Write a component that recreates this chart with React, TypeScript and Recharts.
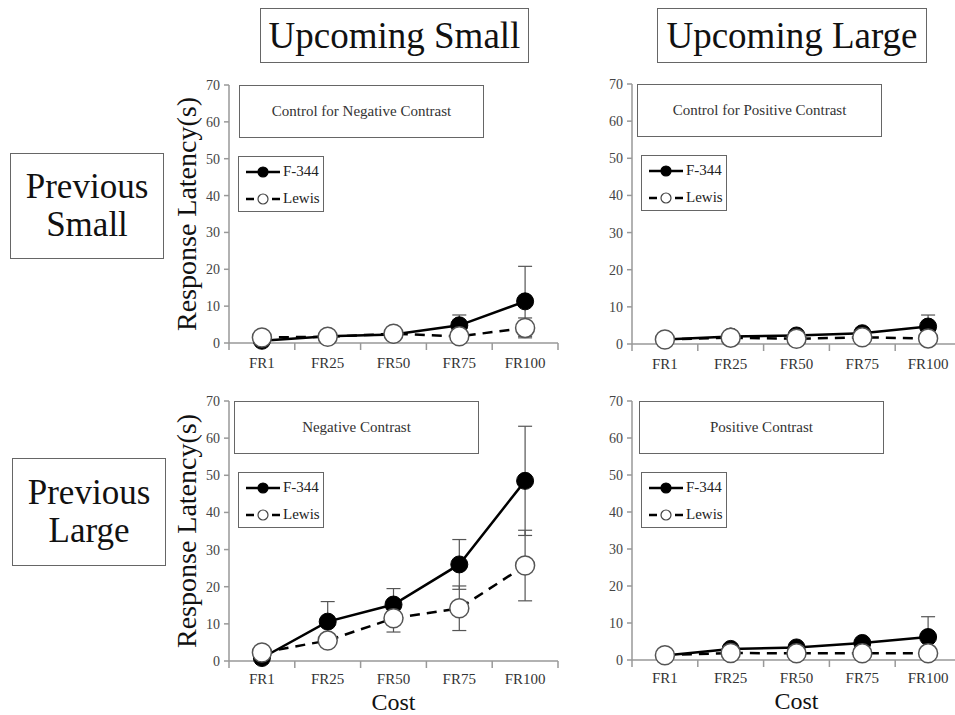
import React from 'react';
import { ErrorBar, Legend, Line, LineChart, XAxis, YAxis } from 'recharts';

const costs = ['FR1', 'FR25', 'FR50', 'FR75', 'FR100'];
const yTicks = [0, 10, 20, 30, 40, 50, 60, 70];

// Previous Small / Upcoming Small
const ctrlNegF344 = [0.6, 1.8, 2.3, 4.8, 11.3];
const ctrlNegF344Err = [0.4, 0.4, 0.5, 2.8, 9.5];
const ctrlNegLewis = [1.5, 1.7, 2.5, 1.8, 4.1];
const ctrlNegLewisErr = [0.4, 0.4, 0.5, 0.6, 2.7];

// Previous Small / Upcoming Large
const ctrlPosF344 = [1.2, 2.0, 2.3, 2.9, 4.7];
const ctrlPosF344Err = [0.3, 0.4, 0.5, 0.6, 3.1];
const ctrlPosLewis = [1.2, 1.7, 1.4, 1.8, 1.5];
const ctrlPosLewisErr = [0.3, 0.3, 0.3, 0.3, 0.4];

// Previous Large / Upcoming Small
const negF344 = [0.8, 10.6, 15.2, 26.0, 48.5];
const negF344Err = [0.6, 5.4, 4.3, 6.7, 14.7];
const negLewis = [2.3, 5.5, 11.5, 14.2, 25.7];
const negLewisErr = [0.8, 1.5, 3.7, 6.0, 9.5];

// Previous Large / Upcoming Large
const posF344 = [1.2, 3.0, 3.4, 4.6, 6.2];
const posF344Err = [0.3, 0.6, 0.6, 0.8, 5.5];
const posLewis = [1.3, 1.9, 1.8, 1.8, 1.8];
const posLewisErr = [0.3, 0.3, 0.3, 0.3, 0.4];

const SERIF = '"Liberation Serif", "Times New Roman", serif';
const AXIS = '#999';

function rows(f: number[], fe: number[], l: number[], le: number[]) {
  return costs.map((c, i) => ({ x: i + 0.5, cost: c, f344: f[i], f344Err: fe[i], lewis: l[i], lewisErr: le[i] }));
}

function LegendBox() {
  const item = (dashed: boolean, label: string) => (
    <div style={{ display: 'flex', alignItems: 'center', height: 27 }}>
      <svg width={36} height={14}>
        <line x1={1} y1={7} x2={35} y2={7} stroke="#000" strokeWidth={2.5} strokeDasharray={dashed ? '8 5' : undefined} />
        <circle cx={18} cy={7} r={5} fill={dashed ? '#fff' : '#000'} stroke={dashed ? '#444' : '#000'} strokeWidth={1.2} />
      </svg>
      <span style={{ marginLeft: 2 }}>{label}</span>
    </div>
  );
  return (
    <div
      style={{
        width: 86,
        height: 56,
        boxSizing: 'border-box',
        border: '1.5px solid #666',
        background: '#fff',
        padding: '1px 0 0 6px',
        fontFamily: SERIF,
        fontSize: 15,
        color: '#222',
      }}
    >
      {item(false, 'F-344')}
      {item(true, 'Lewis')}
    </div>
  );
}

function Panel({
  left,
  top,
  plotHeight,
  bottom,
  title,
  titleOffset,
  data,
  yLabel,
  cost,
}: {
  left: number;
  top: number;
  plotHeight: number;
  bottom: number;
  title: string;
  titleOffset: number;
  data: ReturnType<typeof rows>;
  yLabel?: boolean;
  cost?: boolean;
}) {
  const yW = 59;
  const mTop = 15;
  const width = 396;
  const height = mTop + plotHeight + 1 + bottom;
  return (
    <div style={{ position: 'absolute', left, top, width, height }}>
      <LineChart width={width} height={height} data={data} margin={{ top: mTop, right: 8, left: 0, bottom: 0 }}>
        <XAxis
          xAxisId="b"
          type="number"
          dataKey="x"
          domain={[0, 5]}
          ticks={[0.5, 1.5, 2.5, 3.5, 4.5]}
          interval={0}
          height={bottom}
          tickFormatter={(v: number) => costs[Math.floor(v)]}
          axisLine={false}
          tickLine={false}
          tickSize={0}
          tickMargin={cost ? 11 : 13}
          tick={{ fill: '#333', fontSize: 15, fontFamily: SERIF }}
          label={
            cost
              ? {
                  content: (p: any) => (
                    <text
                      x={p.viewBox.x + p.viewBox.width / 2}
                      y={p.viewBox.y + 39.5}
                      textAnchor="middle"
                      dominantBaseline="central"
                      fontFamily={SERIF}
                      fontSize={24}
                      fill="#111"
                    >
                      Cost
                    </text>
                  ),
                }
              : undefined
          }
        />
        <XAxis
          xAxisId="a"
          type="number"
          dataKey="x"
          domain={[0, 5]}
          ticks={[0, 1, 2, 3, 4, 5]}
          interval={0}
          height={1}
          tick={() => <g />}
          tickSize={7}
          axisLine={{ stroke: AXIS, strokeWidth: 1.5 }}
          tickLine={{ stroke: AXIS, strokeWidth: 1.5 }}
        />
        <YAxis
          type="number"
          domain={[0, 70]}
          ticks={yTicks}
          interval={0}
          width={yW}
          tickSize={5}
          tickMargin={4}
          axisLine={{ stroke: AXIS, strokeWidth: 1.5 }}
          tickLine={{ stroke: AXIS, strokeWidth: 1.5 }}
          tick={{ fill: '#444', fontSize: 14, fontFamily: SERIF }}
          label={
            yLabel
              ? {
                  content: (p: any) => {
                    const x = p.viewBox.x + 16;
                    const y = p.viewBox.y + p.viewBox.height / 2;
                    return (
                      <text
                        x={x}
                        y={y}
                        transform={`rotate(-90, ${x}, ${y})`}
                        textAnchor="middle"
                        dominantBaseline="central"
                        fontFamily={SERIF}
                        fontSize={28}
                        fill="#111"
                      >
                        Response Latency(s)
                      </text>
                    );
                  },
                }
              : undefined
          }
        />
        <Legend
          layout="vertical"
          align="center"
          verticalAlign="middle"
          wrapperStyle={{ left: yW + 9, top: mTop + 71, width: 'auto', height: 'auto' }}
          content={() => <LegendBox />}
        />
        <Line
          xAxisId="b"
          type="linear"
          dataKey="f344"
          name="F-344"
          stroke="#000"
          strokeWidth={2.5}
          dot={{ r: 8.5, fill: '#000', stroke: '#000', strokeWidth: 1 }}
          isAnimationActive={false}
        >
          <ErrorBar dataKey="f344Err" direction="y" width={7} stroke="#555" strokeWidth={1.2} />
        </Line>
        <Line
          xAxisId="b"
          type="linear"
          dataKey="lewis"
          name="Lewis"
          stroke="#000"
          strokeWidth={2.5}
          strokeDasharray="10 7"
          dot={{ r: 9.5, fill: '#fff', stroke: '#555', strokeWidth: 1.5, strokeDasharray: '0' }}
          isAnimationActive={false}
        >
          <ErrorBar dataKey="lewisErr" direction="y" width={7} stroke="#555" strokeWidth={1.2} />
        </Line>
      </LineChart>
      <div
        style={{
          position: 'absolute',
          left: yW + titleOffset,
          top: mTop,
          width: 245,
          height: 53,
          boxSizing: 'border-box',
          border: '1.5px solid #666',
          background: '#fff',
          display: 'flex',
          alignItems: 'center',
          justifyContent: 'center',
          fontFamily: SERIF,
          fontSize: 15,
          color: '#333',
        }}
      >
        {title}
      </div>
    </div>
  );
}

function Box({ left, top, width, height, fontSize, lineHeight, children }: any) {
  return (
    <div
      style={{
        position: 'absolute',
        left,
        top,
        width,
        height,
        boxSizing: 'border-box',
        border: '1.5px solid #666',
        background: '#fff',
        display: 'flex',
        alignItems: 'center',
        justifyContent: 'center',
        textAlign: 'center',
        fontFamily: SERIF,
        fontSize,
        lineHeight: lineHeight ? `${lineHeight}px` : 'normal',
        color: '#111',
      }}
    >
      {children}
    </div>
  );
}

export default function App() {
  return (
    <div style={{ position: 'absolute', left: 0, top: 0, width: 955, height: 715, overflow: 'hidden', background: '#fff' }}>
      <Box left={260} top={8} width={269} height={55} fontSize={37}>
        Upcoming Small
      </Box>
      <Box left={657} top={8} width={270} height={55} fontSize={37}>
        Upcoming Large
      </Box>
      <Box left={10} top={153} width={154} height={106} fontSize={35} lineHeight={38}>
        Previous
        <br />
        Small
      </Box>
      <Box left={12} top={458} width={154} height={108} fontSize={35} lineHeight={38}>
        Previous
        <br />
        Large
      </Box>
      <Panel
        left={170}
        top={70}
        plotHeight={258}
        bottom={29}
        title="Control for Negative Contrast"
        titleOffset={10}
        data={rows(ctrlNegF344, ctrlNegF344Err, ctrlNegLewis, ctrlNegLewisErr)}
        yLabel
      />
      <Panel
        left={573}
        top={69}
        plotHeight={260}
        bottom={29}
        title="Control for Positive Contrast"
        titleOffset={5}
        data={rows(ctrlPosF344, ctrlPosF344Err, ctrlPosLewis, ctrlPosLewisErr)}
      />
      <Panel
        left={170}
        top={386}
        plotHeight={260}
        bottom={53}
        title="Negative Contrast"
        titleOffset={5}
        data={rows(negF344, negF344Err, negLewis, negLewisErr)}
        yLabel
        cost
      />
      <Panel
        left={573}
        top={386}
        plotHeight={259}
        bottom={53}
        title="Positive Contrast"
        titleOffset={7}
        data={rows(posF344, posF344Err, posLewis, posLewisErr)}
        cost
      />
    </div>
  );
}
